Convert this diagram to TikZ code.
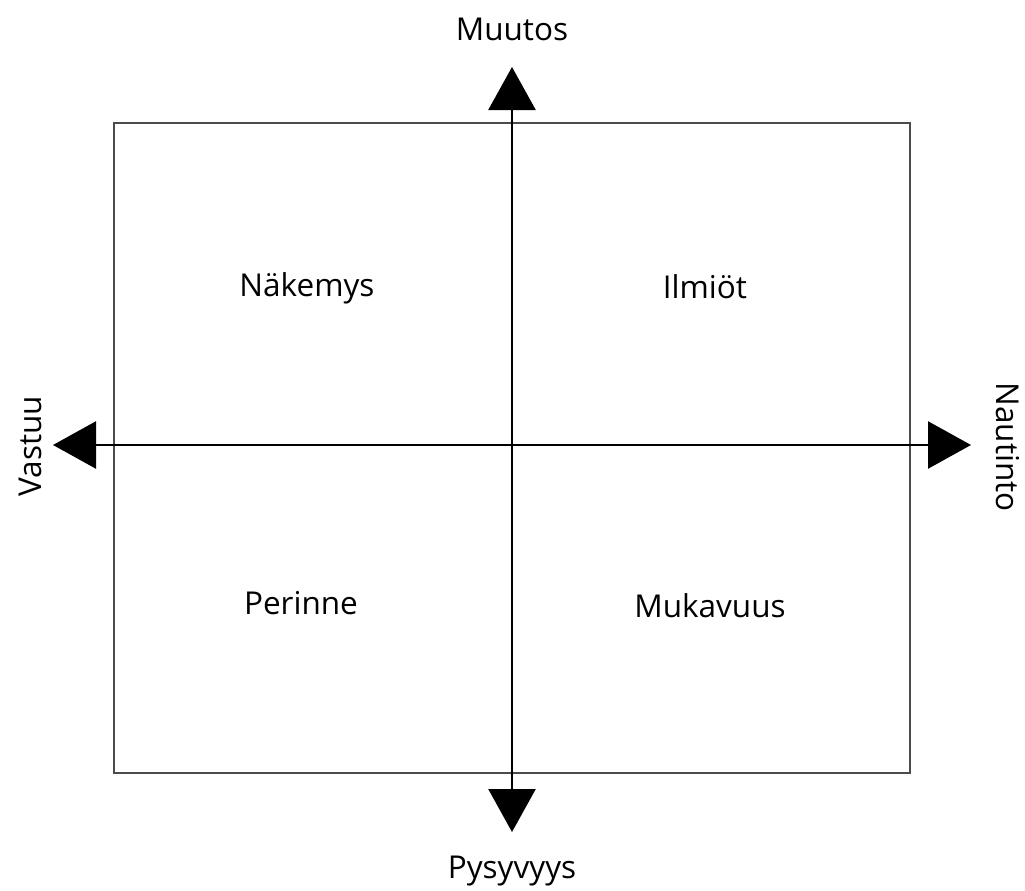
\documentclass[tikz,border=0pt]{standalone}
\usepackage{fontspec}
\setmainfont{Open Sans}
\usetikzlibrary{arrows.meta}

\tikzset{
  lbl/.style={font=\fontsize{31.5}{34}\selectfont,anchor=base,inner sep=0pt},
  axis/.style={line width=2.5pt,{Triangle[width=47pt,length=43pt]}-{Triangle[width=47pt,length=43pt]}},
  frame/.style={line width=1.6pt,black!70},
}

\begin{document}
\begin{tikzpicture}[x=1pt,y=-1pt]
\useasboundingbox (0,0) rectangle (1025,891);
\draw[frame] (114,123) rectangle (910,773);
\coordinate (west) at (53,445);
\coordinate (east) at (971,445);
\coordinate (north) at (512,67);
\coordinate (south) at (512,832);
\draw[axis] (west) -- (east);
\draw[axis] (south) -- (north);
\node[lbl] (muutos) at (512,41) {Muutos};
\node[lbl] (pysyvyys) at (512,878) {Pysyvyys};
\node[lbl,rotate=90] (vastuu) at (41,446) {Vastuu};
\node[lbl,rotate=-90] (nautinto) at (996,447) {Nautinto};
\node[lbl] (nakemys) at (307,296) {Näkemys};
\node[lbl] (ilmiot) at (705,298) {Ilmiöt};
\node[lbl] (perinne) at (301,614) {Perinne};
\node[lbl] (mukavuus) at (710,617) {Mukavuus};
\end{tikzpicture}
\end{document}
